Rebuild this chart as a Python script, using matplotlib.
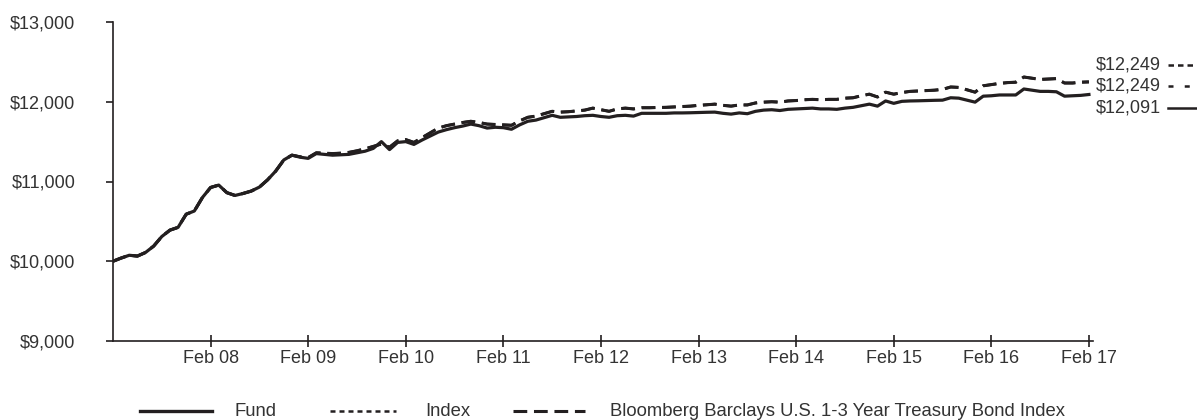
import matplotlib
matplotlib.use("Agg")
import matplotlib.pyplot as plt
from matplotlib.lines import Line2D

plt.rcParams["font.family"] = ["Liberation Sans", "DejaVu Sans"]

# Monthly growth of $10,000, Feb 2007 .. Feb 2017
fund = [
    10000, 10040, 10075, 10065, 10110, 10190, 10310, 10390, 10425, 10590,
    10630, 10800, 10925, 10955, 10860, 10825, 10850, 10880, 10930, 11020,
    11130, 11270, 11330, 11305, 11290, 11350, 11340, 11330, 11335, 11340,
    11360, 11380, 11415, 11500, 11400, 11490, 11500, 11465, 11520, 11570,
    11620, 11650, 11675, 11695, 11720, 11700, 11670, 11680, 11675, 11655,
    11710, 11755, 11770, 11800, 11830, 11805, 11810, 11815, 11825, 11830,
    11815, 11805, 11825, 11830, 11820, 11855, 11855, 11855, 11855, 11860,
    11860, 11862, 11865, 11868, 11870, 11855, 11845, 11860, 11850, 11880,
    11895, 11900, 11890, 11905, 11910, 11915, 11920, 11910, 11910, 11905,
    11920, 11930, 11950, 11970, 11945, 12010, 11980, 12005, 12010, 12012,
    12015, 12018, 12020, 12050, 12045, 12020, 11995, 12070, 12075, 12085,
    12085, 12085, 12160, 12145, 12130, 12130, 12125, 12070, 12075, 12080,
    12091,
]

bloomberg = [
    10000, 10040, 10075, 10065, 10110, 10190, 10310, 10390, 10425, 10590,
    10630, 10800, 10925, 10955, 10860, 10825, 10850, 10880, 10930, 11020,
    11130, 11270, 11330, 11310, 11300, 11360, 11355, 11350, 11355, 11365,
    11385, 11410, 11440, 11470, 11430, 11510, 11525, 11490, 11550, 11610,
    11670, 11700, 11720, 11740, 11755, 11740, 11720, 11715, 11710, 11705,
    11760, 11805, 11820, 11850, 11880, 11870, 11875, 11885, 11895, 11920,
    11900, 11880, 11910, 11920, 11910, 11925, 11925, 11928, 11930, 11935,
    11940, 11945, 11955, 11962, 11970, 11955, 11945, 11960, 11960, 11985,
    11995, 12000, 11995, 12010, 12015, 12025, 12030, 12025, 12030, 12030,
    12045, 12050, 12075, 12095, 12060, 12120, 12095, 12115, 12130, 12135,
    12140, 12145, 12155, 12185, 12180, 12150, 12120, 12200, 12215, 12230,
    12240, 12245, 12310, 12295, 12280, 12285, 12290, 12235, 12235, 12245,
    12249,
]

# The Index tracks the Bloomberg Barclays benchmark month for month
index_vals = list(bloomberg)

x_tick_labels = ["Feb 08", "Feb 09", "Feb 10", "Feb 11", "Feb 12",
                 "Feb 13", "Feb 14", "Feb 15", "Feb 16", "Feb 17"]
y_ticks = [9000, 10000, 11000, 12000, 13000]
legend_names = ["Fund", "Index",
                "Bloomberg Barclays U.S. 1-3 Year Treasury Bond Index"]

INK = "#231f20"
TXT = "#333333"
W, H = 1197, 420

fig = plt.figure(figsize=(W / 100, H / 100), dpi=100)
ax = fig.add_axes([113 / W, 1 - 341 / H, (1093 - 113) / W, (341 - 22) / H])

months = list(range(len(fund)))
# Index sits directly beneath the benchmark line, dashed in step with it
ax.plot(months, index_vals, color=INK, lw=2.0, dashes=(4.95, 2.42),
        solid_capstyle="butt", zorder=2)
ax.plot(months, bloomberg, color=INK, lw=2.2, dashes=(4.5, 2.2),
        solid_capstyle="butt", zorder=3)
ax.plot(months, fund, color=INK, lw=2.3, solid_joinstyle="round", zorder=4)

ax.set_xlim(0, 120.5)
ax.set_ylim(9000, 13000)
ax.set_xticks([12 * (i + 1) for i in range(len(x_tick_labels))])
ax.set_xticklabels(x_tick_labels)
ax.set_yticks(y_ticks)
ax.set_yticklabels([f"${v:,}" for v in y_ticks])

for s in ("top", "right"):
    ax.spines[s].set_visible(False)
for s in ("left", "bottom"):
    ax.spines[s].set_color(INK)
    ax.spines[s].set_linewidth(1.2)

ax.tick_params(axis="x", direction="inout", length=9, width=1.2, color=INK,
               labelsize=13, labelcolor=TXT, pad=2)
ax.tick_params(axis="y", direction="out", length=5, width=1.2, color=INK,
               labelsize=13, labelcolor=TXT, pad=22)

# End-value labels on the right with their line keys
end_labels = [(index_vals[-1], 65, (2.2, 1.6)),
              (bloomberg[-1], 86, (2.0, 4.5)),
              (fund[-1], 108, None)]
for val, ypix, dash in end_labels:
    yf = 1 - ypix / H
    fig.text(1096 / W, yf, f"${val:,}", fontsize=13, color=TXT,
             ha="left", va="center")
    ln = Line2D([1168 / W, 1196 / W], [yf, yf], transform=fig.transFigure,
                color=INK, lw=1.8)
    if dash:
        ln.set_dashes(dash)
    fig.add_artist(ln)

# Bottom legend
legend_items = [
    (140, 212, None, 235, legend_names[0], 2.4),
    (330, 396, (2.0, 1.6), 425, legend_names[1], 1.8),
    (513, 585, (4.5, 2.2), 610, legend_names[2], 2.2),
]
ly = 1 - 411 / H
for x0, x1, dash, tx, name, lw in legend_items:
    ln = Line2D([x0 / W, x1 / W], [ly, ly], transform=fig.transFigure,
                color=INK, lw=lw)
    if dash:
        ln.set_dashes(dash)
    fig.add_artist(ln)
    fig.text(tx / W, ly, name, fontsize=13.3, color=TXT, ha="left",
             va="center")

fig.savefig("out.png", dpi=100)
